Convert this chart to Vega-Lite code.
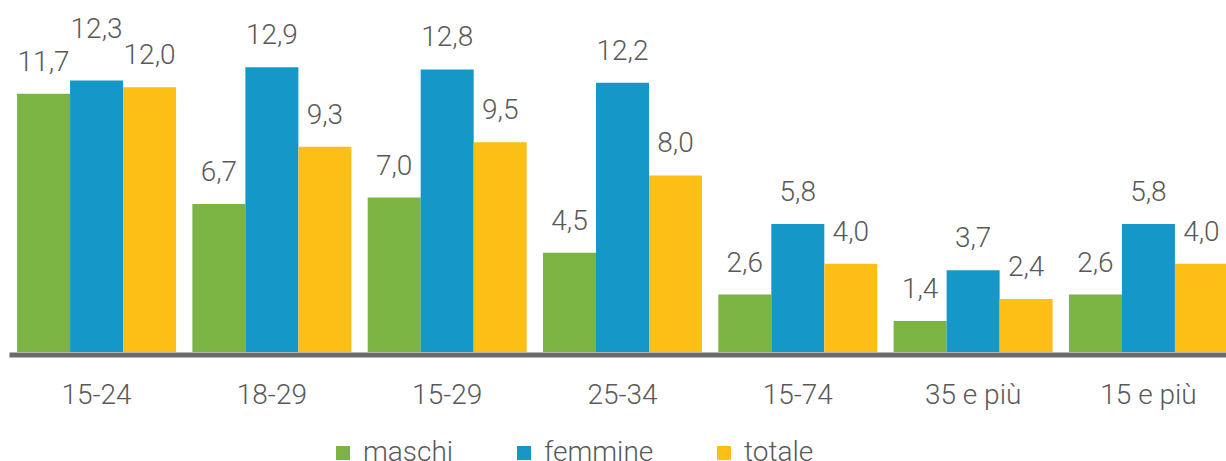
{
  "$schema": "https://vega.github.io/schema/vega-lite/v6.json",
  "autosize": {"type": "none"},
  "padding": {"left": 9, "top": 43, "right": 0, "bottom": 109},
  "width": 1217,
  "height": 309,
  "background": "white",
  "data": {"values": [
    {"gruppo": "15-24", "serie": "maschi", "v": 11.7},
    {"gruppo": "15-24", "serie": "femmine", "v": 12.3},
    {"gruppo": "15-24", "serie": "totale", "v": 12.0},
    {"gruppo": "18-29", "serie": "maschi", "v": 6.7},
    {"gruppo": "18-29", "serie": "femmine", "v": 12.9},
    {"gruppo": "18-29", "serie": "totale", "v": 9.3},
    {"gruppo": "15-29", "serie": "maschi", "v": 7.0},
    {"gruppo": "15-29", "serie": "femmine", "v": 12.8},
    {"gruppo": "15-29", "serie": "totale", "v": 9.5},
    {"gruppo": "25-34", "serie": "maschi", "v": 4.5},
    {"gruppo": "25-34", "serie": "femmine", "v": 12.2},
    {"gruppo": "25-34", "serie": "totale", "v": 8.0},
    {"gruppo": "15-74", "serie": "maschi", "v": 2.6},
    {"gruppo": "15-74", "serie": "femmine", "v": 5.8},
    {"gruppo": "15-74", "serie": "totale", "v": 4.0},
    {"gruppo": "35 e più", "serie": "maschi", "v": 1.4},
    {"gruppo": "35 e più", "serie": "femmine", "v": 3.7},
    {"gruppo": "35 e più", "serie": "totale", "v": 2.4},
    {"gruppo": "15 e più", "serie": "maschi", "v": 2.6},
    {"gruppo": "15 e più", "serie": "femmine", "v": 5.8},
    {"gruppo": "15 e più", "serie": "totale", "v": 4.0}
  ]},
  "encoding": {
    "x": {
      "field": "gruppo", "type": "nominal", "sort": null, "title": null,
      "scale": {"range": [0, 1227], "paddingInner": 0.093, "paddingOuter": 0.046},
      "axis": {
        "domainColor": "#6b6b6b", "domainWidth": 5, "offset": 2.5,
        "ticks": false, "labelAngle": 0, "labelFont": "Roboto", "labelFontWeight": 300,
        "labelFontSize": 28, "labelColor": "#595959", "labelPadding": 27
      }
    },
    "xOffset": {"field": "serie", "type": "nominal", "sort": ["maschi", "femmine", "totale"]},
    "y": {
      "field": "v", "type": "quantitative", "axis": null,
      "scale": {"domain": [0, 14], "nice": false}
    }
  },
  "layer": [
    {
      "mark": {"type": "bar"},
      "encoding": {
        "color": {
          "field": "serie", "type": "nominal", "sort": ["maschi", "femmine", "totale"],
          "scale": {"domain": ["maschi", "femmine", "totale"], "range": ["#7bb443", "#1597c7", "#fdbe16"]},
          "legend": {
            "title": null, "orient": "none", "direction": "horizontal",
            "legendX": 320, "legendY": 396, "padding": 0,
            "symbolType": "square", "symbolSize": 196, "symbolStrokeWidth": 0,
            "labelFont": "Roboto", "labelFontWeight": 300, "labelFontSize": 28, "labelColor": "#595959",
            "labelOffset": 6, "columnPadding": 56
          }
        }
      }
    },
    {
      "transform": [{"filter": "datum.gruppo != '15-24' || datum.serie != 'femmine'"}],
      "mark": {"type": "text", "baseline": "alphabetic", "dy": -23, "font": "Roboto", "fontWeight": 300, "fontSize": 28, "color": "#595959"},
      "encoding": {"text": {"field": "v", "type": "quantitative", "format": ".1f"}}
    },
    {
      "transform": [{"filter": "datum.gruppo == '15-24' && datum.serie == 'femmine'"}],
      "mark": {"type": "text", "baseline": "alphabetic", "dy": -43, "font": "Roboto", "fontWeight": 300, "fontSize": 28, "color": "#595959"},
      "encoding": {"text": {"field": "v", "type": "quantitative", "format": ".1f"}}
    }
  ],
  "config": {
    "view": {"stroke": null},
    "locale": {"number": {"decimal": ",", "thousands": ".", "grouping": [3], "currency": ["", " €"]}}
  }
}
